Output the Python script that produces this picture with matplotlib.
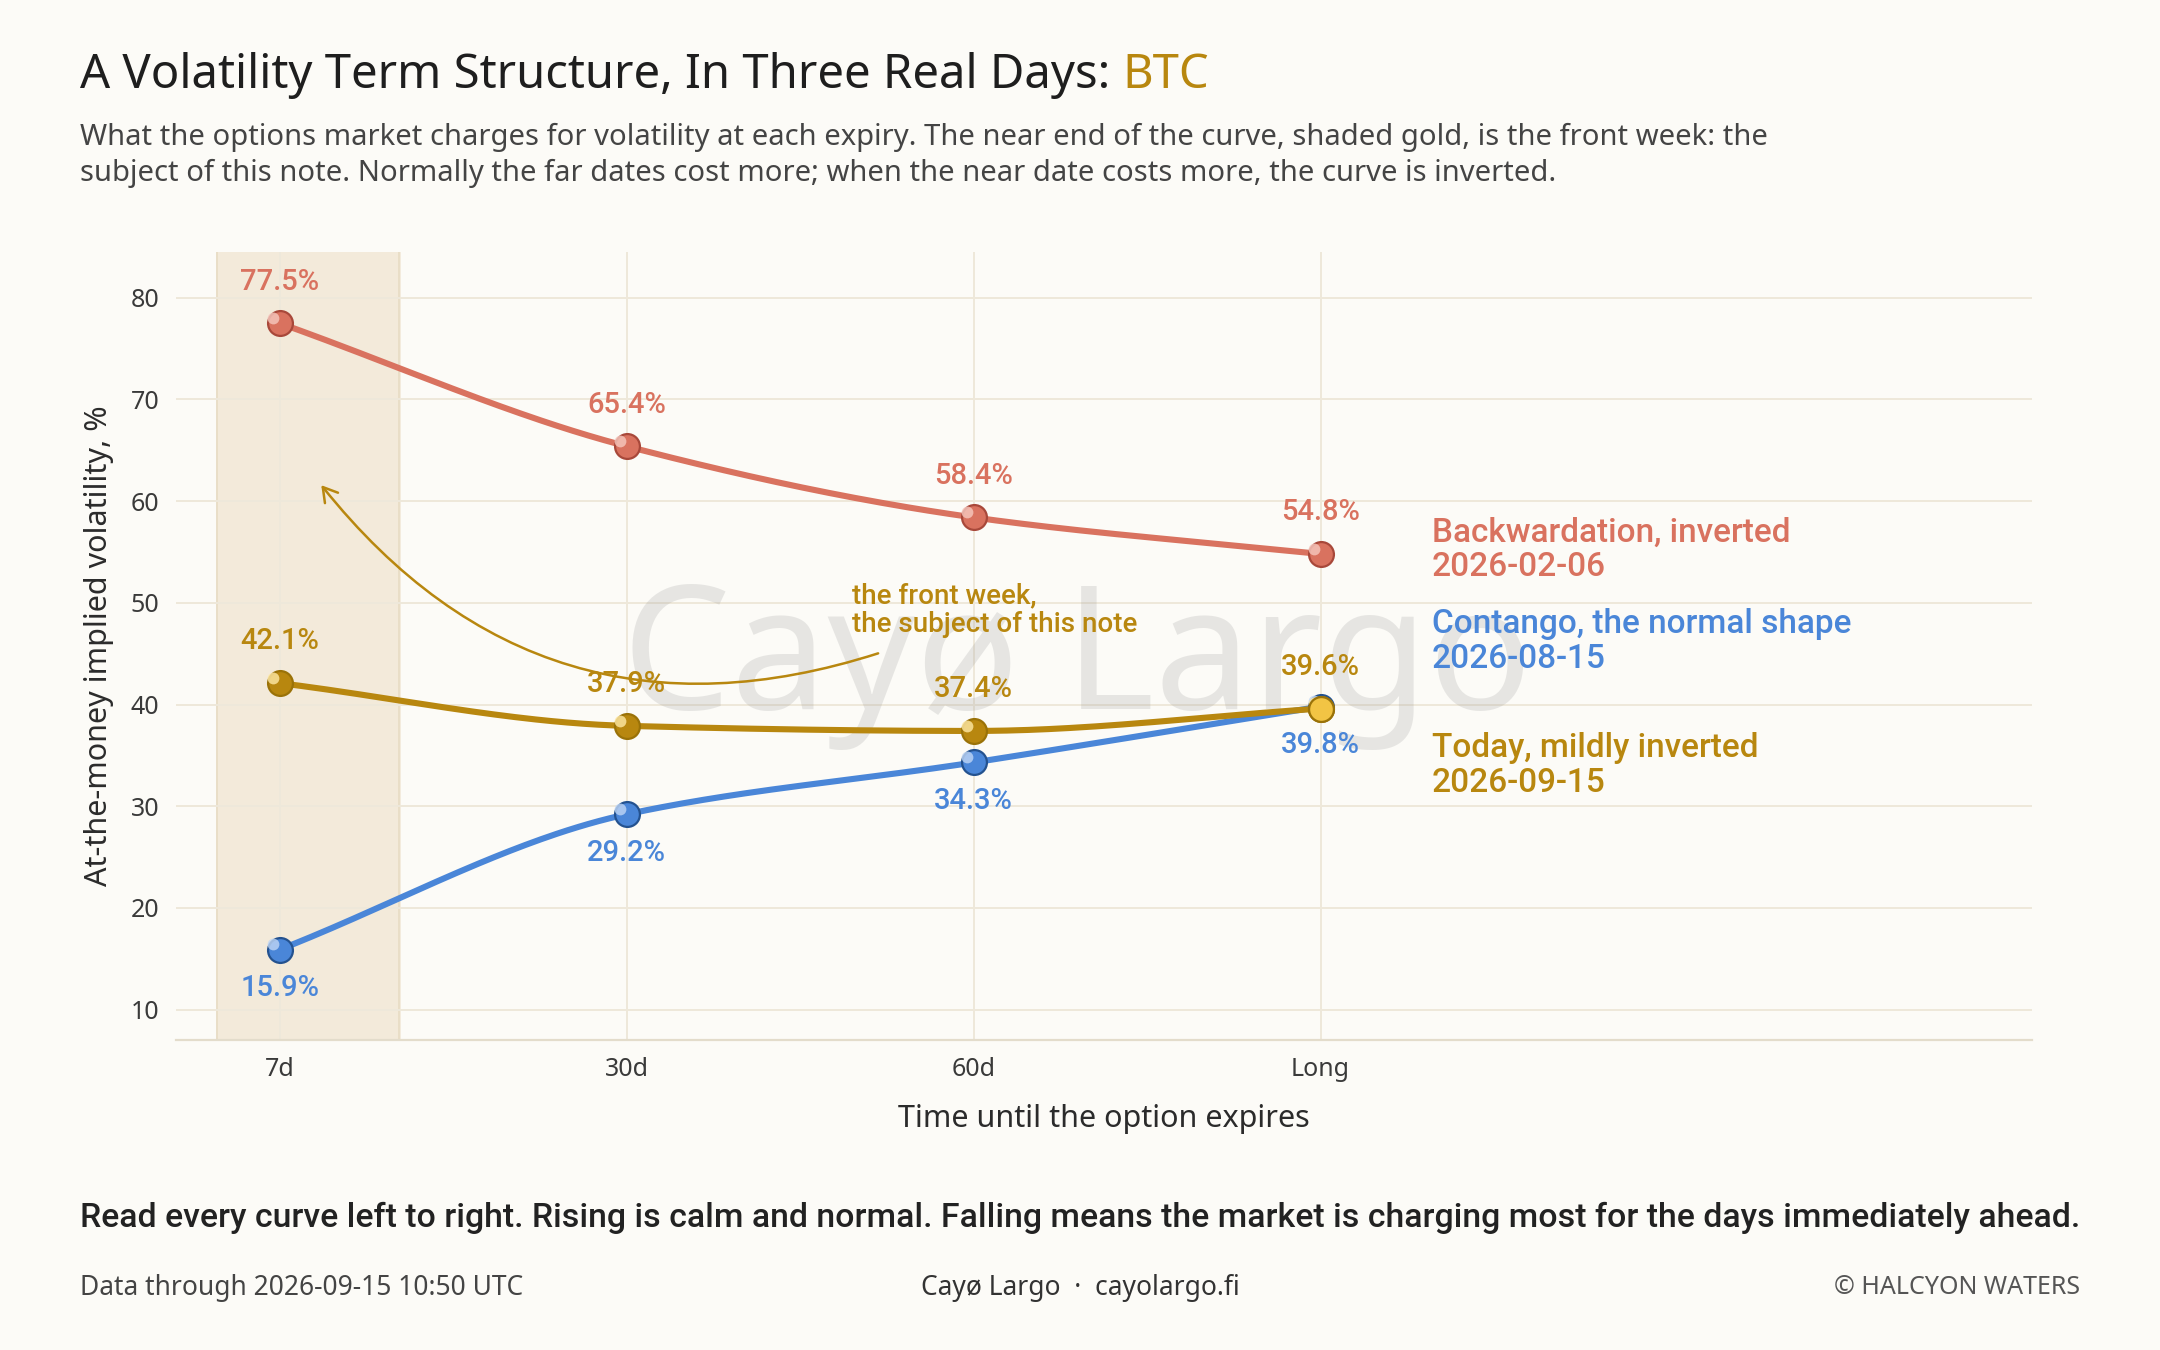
import numpy as np
import matplotlib
matplotlib.use("Agg")
import matplotlib.pyplot as plt
from matplotlib.patches import FancyArrowPatch

plt.rcParams['font.family'] = ['Noto Sans', 'DejaVu Sans']

categories = ["7d", "30d", "60d", "Long"]
backwardation = [77.5, 65.4, 58.4, 54.8]
contango = [15.9, 29.2, 34.3, 39.8]
today = [42.1, 37.9, 37.4, 39.6]
yticks = [10, 20, 30, 40, 50, 60, 70, 80]

RED = "#D9725F"; BLUE = "#4A86D8"; GOLD = "#B8870F"; BG = "#FCFBF7"; GRID = "#EEE8DA"; TXT = "#2B2B2B"

def pchip(x, y, n=200):
    x = np.asarray(x, float); y = np.asarray(y, float)
    h = np.diff(x); d = np.diff(y) / h
    m = np.zeros_like(y)
    for k in range(1, len(x) - 1):
        if d[k-1] * d[k] > 0:
            w1 = 2*h[k] + h[k-1]; w2 = h[k] + 2*h[k-1]
            m[k] = (w1 + w2) / (w1/d[k-1] + w2/d[k])
    m[0] = d[0]; m[-1] = d[-1]
    xs = np.linspace(x[0], x[-1], n); ys = np.empty_like(xs)
    for i, xv in enumerate(xs):
        k = min(np.searchsorted(x, xv, side='right') - 1, len(x) - 2)
        t = (xv - x[k]) / h[k]
        h00 = 2*t**3 - 3*t**2 + 1; h10 = t**3 - 2*t**2 + t
        h01 = -2*t**3 + 3*t**2; h11 = t**3 - t**2
        ys[i] = h00*y[k] + h10*h[k]*m[k] + h01*y[k+1] + h11*h[k]*m[k+1]
    return xs, ys

fig = plt.figure(figsize=(10.8, 6.75), dpi=200, facecolor=BG)
ax = fig.add_axes([0.0816, 0.2296, 0.8591, 0.5837], facecolor=BG)
xpos = np.arange(len(categories))
ax.set_xlim(-0.298, 5.05); ax.set_ylim(7.0, 84.5)
ax.axvspan(-0.18, 0.345, color="#F3EADA", zorder=0)
ax.axvline(-0.18, color="#E8DCC4", lw=0.6, zorder=0)
ax.axvline(0.345, color="#E8DCC4", lw=0.6, zorder=0)
for yv in yticks:
    ax.axhline(yv, color=GRID, lw=0.7, zorder=0.5)
for xv in xpos:
    ax.axvline(xv, color=GRID, lw=0.7, zorder=0.5)
for s in ["top", "right", "left"]:
    ax.spines[s].set_visible(False)
ax.spines["bottom"].set_color("#E3DCCB")
ax.set_xticks(xpos, categories)
ax.set_yticks(yticks)
ax.tick_params(length=0, labelsize=9, colors="#3A3A3A", pad=6)
ax.set_xlabel("Time until the option expires", fontsize=11, color=TXT, labelpad=8)
ax.set_ylabel("At-the-money implied volatility, %", fontsize=11, color=TXT, labelpad=6)

ax.text(2.3, 44, "Cayø Largo", fontsize=62, color="#9A9A9A", alpha=0.22, ha="center", va="center", zorder=1)

def series(vals, col, dark, light, offs):
    xs, ys = pchip(xpos, vals)
    ax.plot(xs, ys, color=col, lw=2.2, zorder=3, solid_capstyle="round")
    ax.scatter(xpos, vals, s=80, color=col, edgecolor=dark, linewidth=0.8, zorder=4)
    ax.scatter(xpos - 0.02, np.array(vals) + 0.5, s=18, color=light, alpha=0.8, lw=0, zorder=5)
    for x, v, o in zip(xpos, vals, offs):
        ax.annotate(f"{v}%", (x, v), xytext=(0, o), textcoords="offset points",
                    ha="center", va="center", fontsize=10.5, color=col, zorder=6,
                    family=["Roboto", "DejaVu Sans"], weight="medium")

series(backwardation, RED, "#A8483A", "#F6C9BF", [15, 15, 15, 15])
series(contango, BLUE, "#24528F", "#BFD6F5", [-14, -14, -14, -14])
series(today, GOLD, "#9A7208", "#FFE9A6", [15, 15, 15, 15])
ax.scatter([3], [today[3]], s=80, color="#F2C444", edgecolor="#9A7208", lw=0.8, zorder=5)

LF = ["Roboto", "DejaVu Sans"]
ax.text(3.32, 55.2, "Backwardation, inverted\n2026-02-06", color=RED, fontsize=12, va="center", linespacing=1.1, weight="medium", family=LF)
ax.text(3.32, 46.2, "Contango, the normal shape\n2026-08-15", color=BLUE, fontsize=12, va="center", linespacing=1.1, weight="medium", family=LF)
ax.text(3.32, 34.0, "Today, mildly inverted\n2026-09-15", color=GOLD, fontsize=12, va="center", linespacing=1.1, weight="medium", family=LF)

ax.text(1.65, 49.3, "the front week,\nthe subject of this note", color=GOLD, fontsize=10, va="center", linespacing=1.1,
        family=LF, weight="medium")
arr = FancyArrowPatch((1.74, 45.2), (0.11, 62.0), connectionstyle="arc3,rad=-0.35",
                      arrowstyle="->,head_length=5,head_width=3", color=GOLD, lw=0.9, zorder=6)
ax.add_patch(arr)

fig.text(0.037, 0.944, "A Volatility Term Structure, In Three Real Days: ", fontsize=17, color="#1E1E1E", va="center")
t = fig.texts[-1]
fig.canvas.draw()
bb = t.get_window_extent()
fig.text(bb.x1 / fig.bbox.width, 0.944, "BTC", fontsize=17, color=GOLD, va="center")
fig.text(0.037, 0.885, "What the options market charges for volatility at each expiry. The near end of the curve, shaded gold, is the front week: the\n"
         "subject of this note. Normally the far dates cost more; when the near date costs more, the curve is inverted.",
         fontsize=10.5, color="#444444", va="center", linespacing=1.3)
fig.text(0.037, 0.098, "Read every curve left to right. Rising is calm and normal. Falling means the market is charging most for the days immediately ahead.",
         fontsize=12.2, color="#222222", weight="medium", family=LF, va="center")
fig.text(0.037, 0.046, "Data through 2026-09-15 10:50 UTC", fontsize=9.5, color="#444444", va="center")
fig.text(0.5, 0.046, "Cayø Largo  ·  cayolargo.fi", fontsize=9.5, color="#333333", va="center", ha="center")
fig.text(0.963, 0.046, "© HALCYON WATERS", fontsize=9, color="#555555", va="center", ha="right")

fig.savefig("out.png", dpi=200, facecolor=BG)
